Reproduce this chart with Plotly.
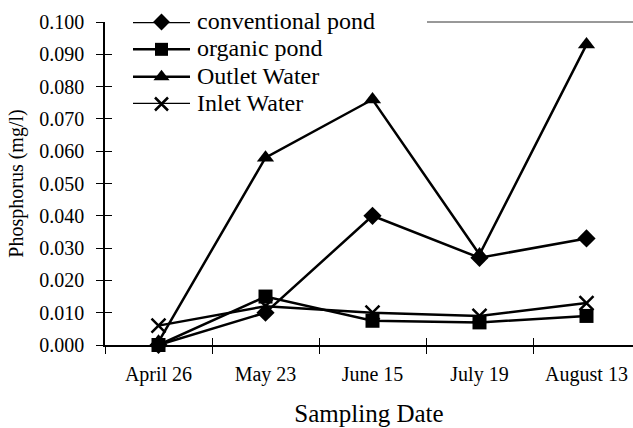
import plotly.graph_objects as go

dates = ["April 26", "May 23", "June 15", "July 19", "August 13"]
conventional_pond = [0.000, 0.010, 0.040, 0.027, 0.033]
organic_pond = [0.000, 0.015, 0.0075, 0.007, 0.009]
outlet_water = [0.001, 0.058, 0.076, 0.028, 0.093]
inlet_water = [0.006, 0.012, 0.010, 0.009, 0.013]

names = ["conventional pond", "organic pond", "Outlet Water", "Inlet Water"]
series = [conventional_pond, organic_pond, outlet_water, inlet_water]
symbols = ["diamond", "square", "triangle-up", "x-thin"]
sizes = [14, 14, 15, 14]

FONT = "Liberation Serif"
W, H = 633, 428
L, R, T, B = 105, 0, 22, 83
plot_w = W - L - R
cat_px = 107.0
x_range = [-0.5, -0.5 + plot_w / cat_px]

fig = go.Figure()

for name, vals, sym, sz in zip(names, series, symbols, sizes):
    mk = dict(symbol=sym, size=sz, color="black")
    if sym == "x-thin":
        mk["line"] = dict(color="black", width=2.5)
    fig.add_trace(go.Scatter(
        x=dates, y=vals, mode="lines+markers", name=name,
        line=dict(color="black", width=2.5), marker=mk,
        cliponaxis=False, showlegend=False))

# dummy trace for overlay axes (crossing ticks)
fig.add_trace(go.Scatter(x=[None], y=[None], xaxis="x2", yaxis="y2",
                         showlegend=False, hoverinfo="skip"))

# custom legend keys
for i, (name, sym, sz) in enumerate(zip(names, symbols, sizes)):
    fig.add_trace(go.Scatter(
        x=[0, 1], y=[i, i], mode="lines",
        line=dict(color="black", width=2.5),
        xaxis="x3", yaxis="y3", cliponaxis=False,
        showlegend=False, hoverinfo="skip"))
    mk = dict(symbol=sym, size=sz - 1, color="black")
    if sym == "x-thin":
        mk["line"] = dict(color="black", width=2.5)
    fig.add_trace(go.Scatter(
        x=[0.5], y=[i], mode="markers", marker=mk,
        xaxis="x3", yaxis="y3", cliponaxis=False,
        showlegend=False, hoverinfo="skip"))
    fig.add_annotation(x=1, y=i, xref="x3", yref="y3", text=name,
                       showarrow=False, xanchor="left", yanchor="middle",
                       xshift=5, yshift=1,
                       font=dict(family=FONT, size=24, color="black"))

def px_to_paper_x(px):
    return (px - L) / plot_w

def py_to_paper_y(py):
    return min(1.0, (H - B - py) / (H - T - B))

fig.update_layout(
    width=W, height=H,
    margin=dict(l=L, r=R, t=T, b=B),
    paper_bgcolor="white", plot_bgcolor="white",
    font=dict(family=FONT, color="black", size=20),
    xaxis=dict(
        type="category", range=x_range, tickson="boundaries",
        ticks="outside", ticklen=7, tickwidth=1, tickcolor="black",
        showline=True, linecolor="black", linewidth=1.5,
        showgrid=False, zeroline=False,
        tickfont=dict(family=FONT, size=20, color="black"),
        ticklabelstandoff=10,
        title=dict(text="Sampling Date", font=dict(family=FONT, size=25, color="black"),
                   standoff=20),
        automargin=False,
    ),
    yaxis=dict(
        range=[0, 0.1], dtick=0.01, tick0=0, tickformat=".3f",
        ticks="outside", ticklen=7, tickwidth=1, tickcolor="black",
        showline=True, linecolor="black", linewidth=1.5,
        showgrid=False, zeroline=False,
        tickfont=dict(family=FONT, size=20, color="black"),
        ticklabelstandoff=8,
        title=dict(text="Phosphorus (mg/l)", font=dict(family=FONT, size=20, color="black"),
                   standoff=10),
        automargin=False,
    ),
    xaxis2=dict(
        overlaying="x", range=x_range, tickvals=[-0.5, 0.5, 1.5, 2.5, 3.5],
        ticks="inside", ticklen=7, tickwidth=1, tickcolor="black",
        showticklabels=False, showline=False, showgrid=False, zeroline=False,
    ),
    yaxis2=dict(
        overlaying="y", range=[0, 0.1], dtick=0.01, tick0=0,
        ticks="inside", ticklen=7, tickwidth=1, tickcolor="black",
        showticklabels=False, showline=False, showgrid=False, zeroline=False,
    ),
    xaxis3=dict(domain=[px_to_paper_x(133), px_to_paper_x(190)], range=[0, 1],
                visible=False, anchor="y3"),
    yaxis3=dict(domain=[py_to_paper_y(104), py_to_paper_y(22)], range=[3, 0],
                visible=False, anchor="x3"),
)

fig.add_shape(type="line", xref="paper", yref="paper",
              x0=px_to_paper_x(427), x1=1, y0=1, y1=1,
              line=dict(color="#333333", width=1))

fig.write_html("out.html")
